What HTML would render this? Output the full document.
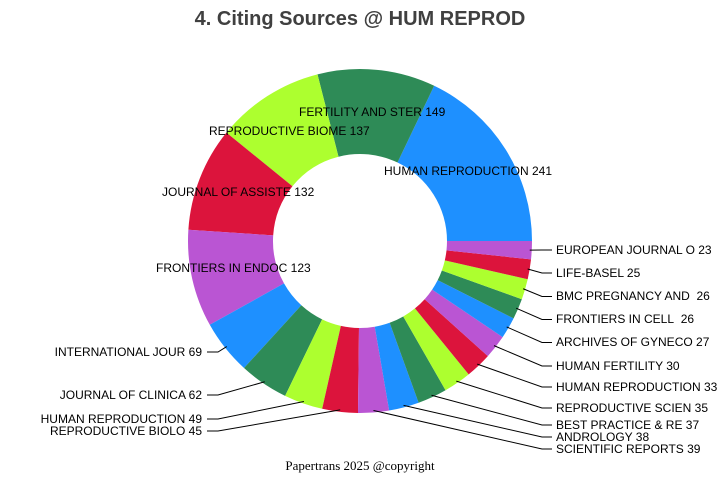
<!DOCTYPE html>
<html><head><meta charset="utf-8"><style>
html,body{margin:0;padding:0;background:#fff;width:720px;height:480px;overflow:hidden}
svg text{font-family:"Liberation Sans",Arial,sans-serif;font-size:12px;fill:#000}
</style></head><body>
<svg id="s" width="720" height="480" viewBox="0 0 720 480" xmlns="http://www.w3.org/2000/svg">
<text x="360" y="25" text-anchor="middle" style="font-size:20px;font-weight:bold;fill:#404040">4. Citing Sources @ HUM REPROD</text>
<g id="segs"></g>
<g id="lines" stroke="#000" stroke-width="1" fill="none"></g>
<text x="384" y="175">HUMAN REPRODUCTION 241</text>
<text x="299" y="116">FERTILITY AND STER 149</text>
<text x="209" y="135">REPRODUCTIVE BIOME 137</text>
<text x="162" y="196">JOURNAL OF ASSISTE 132</text>
<text x="156" y="272">FRONTIERS IN ENDOC 123</text>
<text x="202" y="356" text-anchor="end">INTERNATIONAL JOUR 69</text>
<text x="202" y="399" text-anchor="end">JOURNAL OF CLINICA 62</text>
<text x="202" y="423" text-anchor="end">HUMAN REPRODUCTION 49</text>
<text x="202" y="435" text-anchor="end">REPRODUCTIVE BIOLO 45</text>
<text x="556" y="254">EUROPEAN JOURNAL O 23</text>
<text x="556" y="277">LIFE-BASEL 25</text>
<text x="556" y="300">BMC PREGNANCY AND&#160; 26</text>
<text x="556" y="323">FRONTIERS IN CELL&#160; 26</text>
<text x="556" y="346">ARCHIVES OF GYNECO 27</text>
<text x="556" y="370">HUMAN FERTILITY 30</text>
<text x="556" y="391">HUMAN REPRODUCTION 33</text>
<text x="556" y="412">REPRODUCTIVE SCIEN 35</text>
<text x="556" y="429">BEST PRACTICE &amp; RE 37</text>
<text x="556" y="441">ANDROLOGY 38</text>
<text x="556" y="453">SCIENTIFIC REPORTS 39</text>
<text x="360" y="470" text-anchor="middle" style="font-family:'Liberation Serif',serif;font-size:13px">Papertrans 2025 @copyright</text>
</svg>
<script>
var vals=[241,149,137,132,123,69,62,49,45,39,38,37,35,33,30,27,26,26,25,23];
var cols=["#1E90FF","#2E8B57","#ADFF2F","#DC143C","#BA55D3"];
var cx=360,cy=241,R=172,r=87,tot=0;vals.forEach(function(v){tot+=v});
var ly={5:352,6:395,7:419,8:431,9:449,10:437,11:425,12:408,13:387,14:366,15:342.5,16:319.5,17:296.5,18:273,19:250};
var segs=document.getElementById('segs'),lines=document.getElementById('lines');
var ns="http://www.w3.org/2000/svg",a=0;
function P(rad,ang){return [cx+rad*Math.cos(ang),cy-rad*Math.sin(ang)];}
vals.forEach(function(v,i){
 var a0=a,a1=a+v/tot*2*Math.PI;a=a1;
 var p1=P(R,a0),p2=P(R,a1),p3=P(r,a1),p4=P(r,a0),lg=(a1-a0)>Math.PI?1:0;
 var d="M"+p1+" A"+R+","+R+" 0 "+lg+" 0 "+p2+" L"+p3+" A"+r+","+r+" 0 "+lg+" 1 "+p4+"Z";
 var e=document.createElementNS(ns,'path');e.setAttribute('d',d);e.setAttribute('fill',cols[i%5]);segs.appendChild(e);
 if(ly[i]!==undefined){
  var m=(a0+a1)/2,s=P(R-2,m),y=ly[i],pd;
  if(s[0]<cx) pd="M"+s+" L218,"+y+" L207,"+y;
  else pd="M"+s+" L542,"+y+" L552,"+y;
  var l=document.createElementNS(ns,'path');l.setAttribute('d',pd);lines.appendChild(l);
 }
});
</script>
</body></html>
